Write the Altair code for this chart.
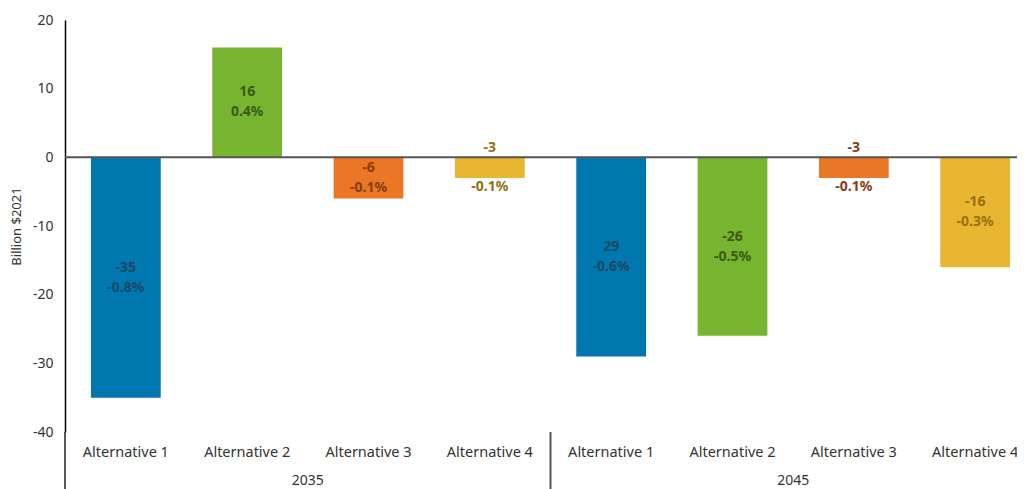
import altair as alt
import pandas as pd

years = ["2035"] * 4 + ["2045"] * 4
alternatives = ["Alternative 1", "Alternative 2", "Alternative 3", "Alternative 4"] * 2
values = [-35, 16, -6, -3, -29, -26, -3, -16]
value_labels = ["-35", "16", "-6", "-3", "29", "-26", "-3", "-16"]
pct_labels = ["-0.8%", "0.4%", "-0.1%", "-0.1%", "-0.6%", "-0.5%", "-0.1%", "-0.3%"]
group_labels = ["2035", "2045"]
y_ticks = [-40, -30, -20, -10, 0, 10, 20]

alt_names = ["Alternative 1", "Alternative 2", "Alternative 3", "Alternative 4"]
bar_colors = ["#0077AE", "#77B530", "#EA7626", "#E8B631"]
text_colors = ["#1D4868", "#3B5A14", "#8A3C10", "#957110"]

FONT = "Noto Sans"
W, H = 952, 412      # visible plot area
FULL = 971            # the band range runs slightly past the right edge, as in the original
BOTTOM = 57

keys = [f"{y}|{a}" for y, a in zip(years, alternatives)]
df = pd.DataFrame({
    "key": keys,
    "year": years,
    "alt": alternatives,
    "value": values,
    "vl": value_labels,
    "pl": pct_labels,
})
df["big"] = df["value"].abs() >= 5
one = pd.DataFrame({"a": [0]})

xscale = alt.Scale(paddingInner=0.425, paddingOuter=0.214, range=[0, FULL])
xenc = alt.X(
    "key:N", sort=keys, scale=xscale,
    axis=alt.Axis(title=None, labelExpr="split(datum.value,'|')[1]", domain=False,
                  ticks=False, labelPadding=13, labelFontSize=14.5, labelColor="#333333",
                  labelAngle=0, labelFont=FONT),
)
yscale = alt.Scale(domain=[-40, 20], nice=False, zero=False)

base = alt.Chart(df)

bars = base.mark_bar().encode(
    x=xenc,
    y=alt.Y("value:Q", scale=yscale,
            axis=alt.Axis(values=y_ticks, grid=False, ticks=False, domainColor="#000000",
                          domainWidth=1.5, labelExpr="datum.value", labelFontSize=14,
                          labelColor="#333333", labelFont=FONT, labelPadding=12,
                          title="Billion $2021", titleFont=FONT, titleFontSize=13,
                          titleFontWeight="normal", titleColor="#333333",
                          titleX=-49, titleY=H / 2, titleBaseline="middle")),
    y2=alt.datum(0),
    fill=alt.Fill("alt:N", scale=alt.Scale(domain=alt_names, range=bar_colors), legend=None),
)

zero = alt.Chart(pd.DataFrame({"z": [0]})).mark_rule(color="#555555", strokeWidth=2).encode(
    y=alt.Y("z:Q", scale=yscale)
)

tcolor = alt.Color("alt:N", scale=alt.Scale(domain=alt_names, range=text_colors), legend=None)

big_text = base.transform_filter("datum.big").transform_calculate(
    mid="datum.value/2", lab="[datum.vl, datum.pl]"
).mark_text(font=FONT, fontSize=14, fontWeight="bold", lineHeight=20, baseline="middle",
            dy=-10).encode(
    x=alt.X("key:N", sort=keys, scale=xscale), y=alt.Y("mid:Q", scale=yscale),
    text=alt.Text("lab:N"), color=tcolor
)

small_top = base.transform_filter("!datum.big").transform_calculate(z="0").mark_text(
    font=FONT, fontSize=14, fontWeight="bold", baseline="middle", dy=-9
).encode(x=alt.X("key:N", sort=keys, scale=xscale), y=alt.Y("z:Q", scale=yscale),
         text="vl:N", color=tcolor)

small_bot = base.transform_filter("!datum.big").mark_text(
    font=FONT, fontSize=14, fontWeight="bold", baseline="middle", dy=9
).encode(x=alt.X("key:N", sort=keys, scale=xscale), y=alt.Y("value:Q", scale=yscale),
         text="pl:N", color=tcolor)

ext_left = alt.Chart(one).mark_rule(color="#222222", strokeWidth=1.5).encode(
    x=alt.value(0), y=alt.value(H), y2=alt.value(H + BOTTOM)
)
ext_mid = alt.Chart(one).mark_rule(color="#555555", strokeWidth=2).encode(
    x=alt.value(FULL / 2), y=alt.value(H), y2=alt.value(H + BOTTOM)
)

grp1 = alt.Chart(one).mark_text(
    font=FONT, fontSize=14, color="#333333", baseline="middle", text=group_labels[0]
).encode(x=alt.value(FULL / 4), y=alt.value(H + 49))
grp2 = alt.Chart(one).mark_text(
    font=FONT, fontSize=14, color="#333333", baseline="middle", text=group_labels[1]
).encode(x=alt.value(3 * FULL / 4), y=alt.value(H + 49))

chart = alt.layer(bars, zero, big_text, small_top, small_bot, ext_left, ext_mid, grp1, grp2).properties(
    width=W, height=H,
    autosize=alt.AutoSizeParams(type="none"),
    padding={"left": 57, "top": 12, "right": 0, "bottom": BOTTOM},
).configure_view(stroke=None)

chart.save("out.html", embed_options={"renderer": "svg", "actions": False})
